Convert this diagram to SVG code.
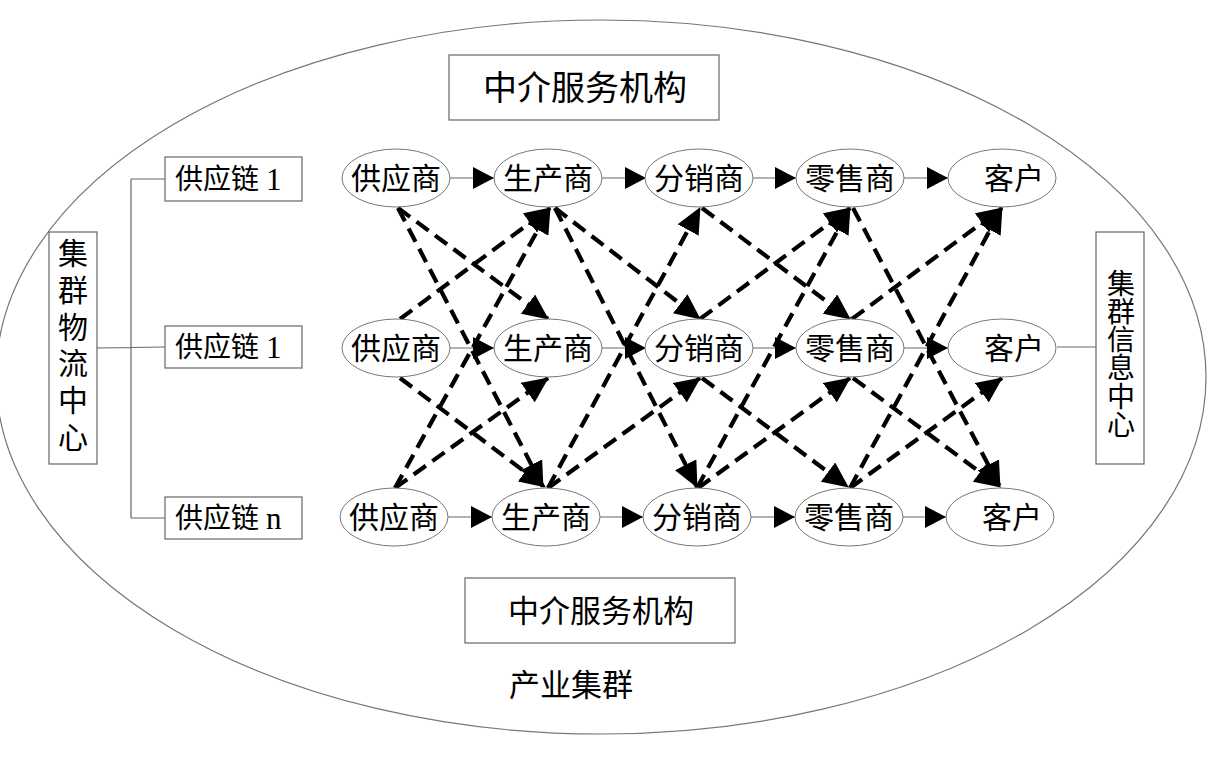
<svg xmlns="http://www.w3.org/2000/svg" width="1231" height="767" viewBox="0 0 1231 767">
<style>
.t{font-family:"Liberation Serif","Noto Sans CJK SC",serif;fill:#000}
.n{fill:#fff;stroke:#777;stroke-width:1}
.b{fill:#fff;stroke:#666;stroke-width:1.2}
.thin{fill:none;stroke:#666;stroke-width:1.2}
.h{fill:none;stroke:#666;stroke-width:1.2;marker-end:url(#ah)}
.d{fill:none;stroke:#000;stroke-width:4.2;stroke-dasharray:15 8;marker-end:url(#ad)}
</style>
<defs>
<marker id="ah" markerUnits="userSpaceOnUse" markerWidth="22" markerHeight="22" refX="21" refY="11" orient="auto">
<path d="M0,0 L21,11 L0,22 z" fill="#000"/>
</marker>
<marker id="ad" markerUnits="userSpaceOnUse" markerWidth="26" markerHeight="24" refX="25" refY="12" orient="auto">
<path d="M0,0 L26,12 L0,24 z" fill="#000"/>
</marker>
</defs>
<rect width="1231" height="767" fill="#fff"/>
<g id="cluster">
<ellipse cx="601" cy="377" rx="605" ry="357" fill="none" stroke="#777" stroke-width="1.2"/>
<text class="t" x="571" y="685" font-size="31" text-anchor="middle" dominant-baseline="central">产业集群</text>
</g>
<g id="agency-top">
<rect class="b" x="449" y="55" width="270" height="65"/>
<text class="t" x="585" y="88" font-size="34" text-anchor="middle" dominant-baseline="central">中介服务机构</text>
</g>
<g id="agency-bottom">
<rect class="b" x="465" y="578" width="270" height="65"/>
<text class="t" x="601" y="611" font-size="31" text-anchor="middle" dominant-baseline="central">中介服务机构</text>
</g>
<g id="logistics">
<rect class="b" x="49" y="232" width="48" height="232"/>
<g class="t" font-size="30" text-anchor="middle" dominant-baseline="central">
<text x="73" y="253">集</text><text x="73" y="290">群</text><text x="73" y="327">物</text><text x="73" y="363">流</text><text x="73" y="400">中</text><text x="73" y="437">心</text>
</g>
</g>
<g id="info">
<rect class="b" x="1096" y="232" width="48" height="232"/>
<g class="t" font-size="28" text-anchor="middle" dominant-baseline="central">
<text x="1121" y="284">集</text><text x="1121" y="312">群</text><text x="1121" y="340">信</text><text x="1121" y="368">息</text><text x="1121" y="397">中</text><text x="1121" y="425">心</text>
</g>
</g>
<g id="chain1">
<rect class="b" x="165" y="157" width="137" height="44"/>
<text class="t" x="175" y="179" font-size="28" dominant-baseline="central">供应链 <tspan font-size="31">1</tspan></text>
</g>
<g id="chain2">
<rect class="b" x="165" y="326" width="137" height="42"/>
<text class="t" x="175" y="347" font-size="28" dominant-baseline="central">供应链 <tspan font-size="31">1</tspan></text>
</g>
<g id="chainn">
<rect class="b" x="165" y="497" width="137" height="42"/>
<text class="t" x="175" y="518" font-size="28" dominant-baseline="central">供应链 <tspan font-size="31">n</tspan></text>
</g>
<g id="connectors">
<path class="thin" d="M97,348 L165,347 M131,179 L131,518 M131,179 L165,179 M131,518 L165,518 M1057,347 L1096,347"/>
<path class="h" d="M450,178 L494,178"/>
<path class="h" d="M602,178 L646,178"/>
<path class="h" d="M753,178 L796,178"/>
<path class="h" d="M904,178 L948,178"/>
<path class="h" d="M450,348 L494,348"/>
<path class="h" d="M602,348 L646,348"/>
<path class="h" d="M753,348 L796,348"/>
<path class="h" d="M904,348 L948,348"/>
<path class="h" d="M448,517 L492,517"/>
<path class="h" d="M600,517 L643,517"/>
<path class="h" d="M751,517 L795,517"/>
<path class="h" d="M903,517 L946,517"/>
<path class="d" d="M398,208 L548,319"/>
<path class="d" d="M398,208 L543,487"/>
<path class="d" d="M400,319 L550,208"/>
<path class="d" d="M395,488 L550,208"/>
<path class="d" d="M400,378 L545,487"/>
<path class="d" d="M395,488 L548,378"/>
<path class="d" d="M555,208 L700,319"/>
<path class="d" d="M555,208 L697,487"/>
<path class="d" d="M548,488 L700,208"/>
<path class="d" d="M548,488 L700,378"/>
<path class="d" d="M702,208 L850,319"/>
<path class="d" d="M700,319 L850,208"/>
<path class="d" d="M697,488 L850,208"/>
<path class="d" d="M702,378 L848,487"/>
<path class="d" d="M698,488 L850,378"/>
<path class="d" d="M853,208 L1000,487"/>
<path class="d" d="M852,319 L1002,208"/>
<path class="d" d="M850,488 L1002,208"/>
<path class="d" d="M853,378 L1000,487"/>
<path class="d" d="M850,488 L1002,378"/>
</g>
<g id="r1c1"><ellipse class="n" cx="396" cy="178" rx="54" ry="29"/><text class="t" x="396" y="178" font-size="30" text-anchor="middle" dominant-baseline="central">供应商</text></g>
<g id="r1c2"><ellipse class="n" cx="548" cy="178" rx="54" ry="29"/><text class="t" x="548" y="178" font-size="30" text-anchor="middle" dominant-baseline="central">生产商</text></g>
<g id="r1c3"><ellipse class="n" cx="699" cy="178" rx="54" ry="29"/><text class="t" x="699" y="178" font-size="30" text-anchor="middle" dominant-baseline="central">分销商</text></g>
<g id="r1c4"><ellipse class="n" cx="850" cy="178" rx="54" ry="29"/><text class="t" x="850" y="178" font-size="30" text-anchor="middle" dominant-baseline="central">零售商</text></g>
<g id="r1c5"><ellipse class="n" cx="1002" cy="178" rx="54" ry="29"/><text class="t" x="1014" y="178" font-size="30" text-anchor="middle" dominant-baseline="central">客户</text></g>
<g id="r2c1"><ellipse class="n" cx="396" cy="348" rx="54" ry="29"/><text class="t" x="396" y="348" font-size="30" text-anchor="middle" dominant-baseline="central">供应商</text></g>
<g id="r2c2"><ellipse class="n" cx="548" cy="348" rx="54" ry="29"/><text class="t" x="548" y="348" font-size="30" text-anchor="middle" dominant-baseline="central">生产商</text></g>
<g id="r2c3"><ellipse class="n" cx="699" cy="348" rx="54" ry="29"/><text class="t" x="699" y="348" font-size="30" text-anchor="middle" dominant-baseline="central">分销商</text></g>
<g id="r2c4"><ellipse class="n" cx="850" cy="348" rx="54" ry="29"/><text class="t" x="850" y="348" font-size="30" text-anchor="middle" dominant-baseline="central">零售商</text></g>
<g id="r2c5"><ellipse class="n" cx="1002" cy="348" rx="54" ry="29"/><text class="t" x="1014" y="348" font-size="30" text-anchor="middle" dominant-baseline="central">客户</text></g>
<g id="r3c1"><ellipse class="n" cx="394" cy="517" rx="54" ry="29"/><text class="t" x="394" y="517" font-size="30" text-anchor="middle" dominant-baseline="central">供应商</text></g>
<g id="r3c2"><ellipse class="n" cx="546" cy="517" rx="54" ry="29"/><text class="t" x="546" y="517" font-size="30" text-anchor="middle" dominant-baseline="central">生产商</text></g>
<g id="r3c3"><ellipse class="n" cx="697" cy="517" rx="54" ry="29"/><text class="t" x="697" y="517" font-size="30" text-anchor="middle" dominant-baseline="central">分销商</text></g>
<g id="r3c4"><ellipse class="n" cx="849" cy="517" rx="54" ry="29"/><text class="t" x="849" y="517" font-size="30" text-anchor="middle" dominant-baseline="central">零售商</text></g>
<g id="r3c5"><ellipse class="n" cx="1000" cy="517" rx="54" ry="29"/><text class="t" x="1012" y="517" font-size="30" text-anchor="middle" dominant-baseline="central">客户</text></g>
</svg>
